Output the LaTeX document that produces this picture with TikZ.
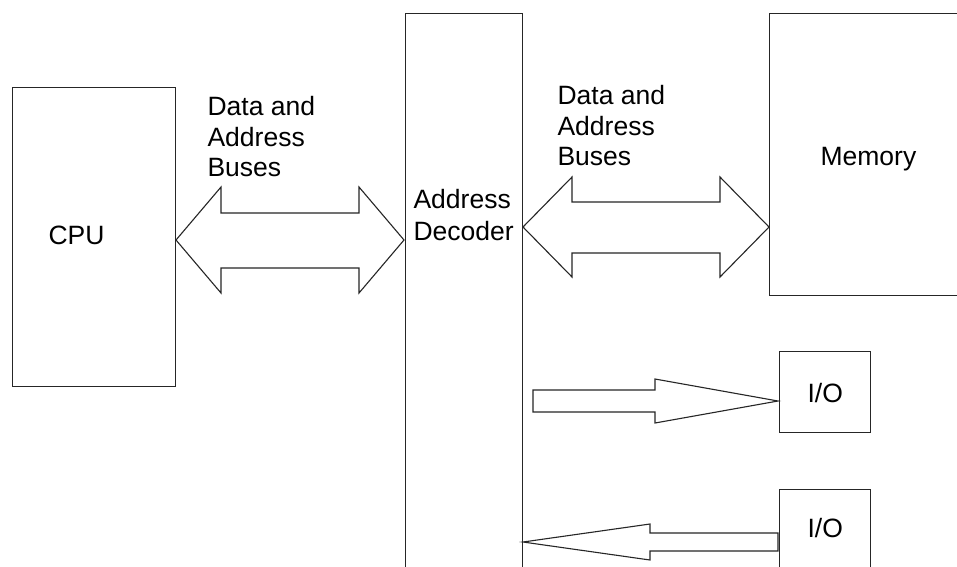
\documentclass[tikz,border=0pt]{standalone}
\usepackage{fontspec}
\setmainfont{Liberation Sans}
\begin{document}
\begin{tikzpicture}[x=1pt,y=-1pt,
  line width=1.1pt, draw=black!85,
  block/.style={draw=black!85, line width=1.1pt, rectangle, inner sep=0pt, anchor=north west},
  lbl/.style={anchor=base west, inner sep=0pt, font=\fontsize{26.5}{31}\selectfont},
  bus/.style={draw=black!85, line width=1.1pt, fill=white, line join=miter}]
\clip (0,0) rectangle (957,566);
\fill[white] (0,0) rectangle (957,566);

% blocks
\node[block, minimum width=163pt, minimum height=299pt] (cpu) at (12,87) {};
\node[block, minimum width=117pt, minimum height=600pt] (dec) at (405,13) {};
\node[block, minimum width=240pt, minimum height=282pt] (mem) at (769,13) {};
\node[block, minimum width=91pt, minimum height=81pt] (io1) at (779,351) {};
\node[block, minimum width=91pt, minimum height=120pt] (io2) at (779,489) {};

% double-headed bus between CPU and decoder
\draw[bus] (176,240) -- (221,187) -- (221,213) -- (359,213) -- (359,187)
  -- (404,240) -- (359,293) -- (359,268) -- (221,268) -- (221,293) -- cycle;

% double-headed bus between decoder and memory
\draw[bus] (523,227) -- (572,177) -- (572,202) -- (720,202) -- (720,177)
  -- (769,227) -- (720,277) -- (720,253) -- (572,253) -- (572,277) -- cycle;

% output arrow towards the first I/O block
\draw[bus] (533,390) -- (655,390) -- (655,379) -- (778,401) -- (655,423)
  -- (655,412) -- (533,412) -- cycle;

% input arrow from the second I/O block
\draw[bus] (523,542) -- (650,524) -- (650,533) -- (778,533) -- (778,551)
  -- (650,551) -- (650,560) -- cycle;

% labels
\node[lbl] (cputxt) at (48,244) {CPU};
\node[lbl] (bus1a) at (207,115) {Data and};
\node[lbl] (bus1b) at (207,146) {Address};
\node[lbl] (bus1c) at (207,176) {Buses};
\node[lbl] (bus2a) at (557,104) {Data and};
\node[lbl] (bus2b) at (557,135) {Address};
\node[lbl] (bus2c) at (557,165) {Buses};
\node[lbl] (dectxta) at (413,208) {Address};
\node[lbl] (dectxtb) at (413,240) {Decoder};
\node[lbl] (memtxt) at (820,165) {Memory};
\node[lbl] (io1txt) at (807,402) {I/O};
\node[lbl] (io2txt) at (807,537) {I/O};
\end{tikzpicture}
\end{document}
